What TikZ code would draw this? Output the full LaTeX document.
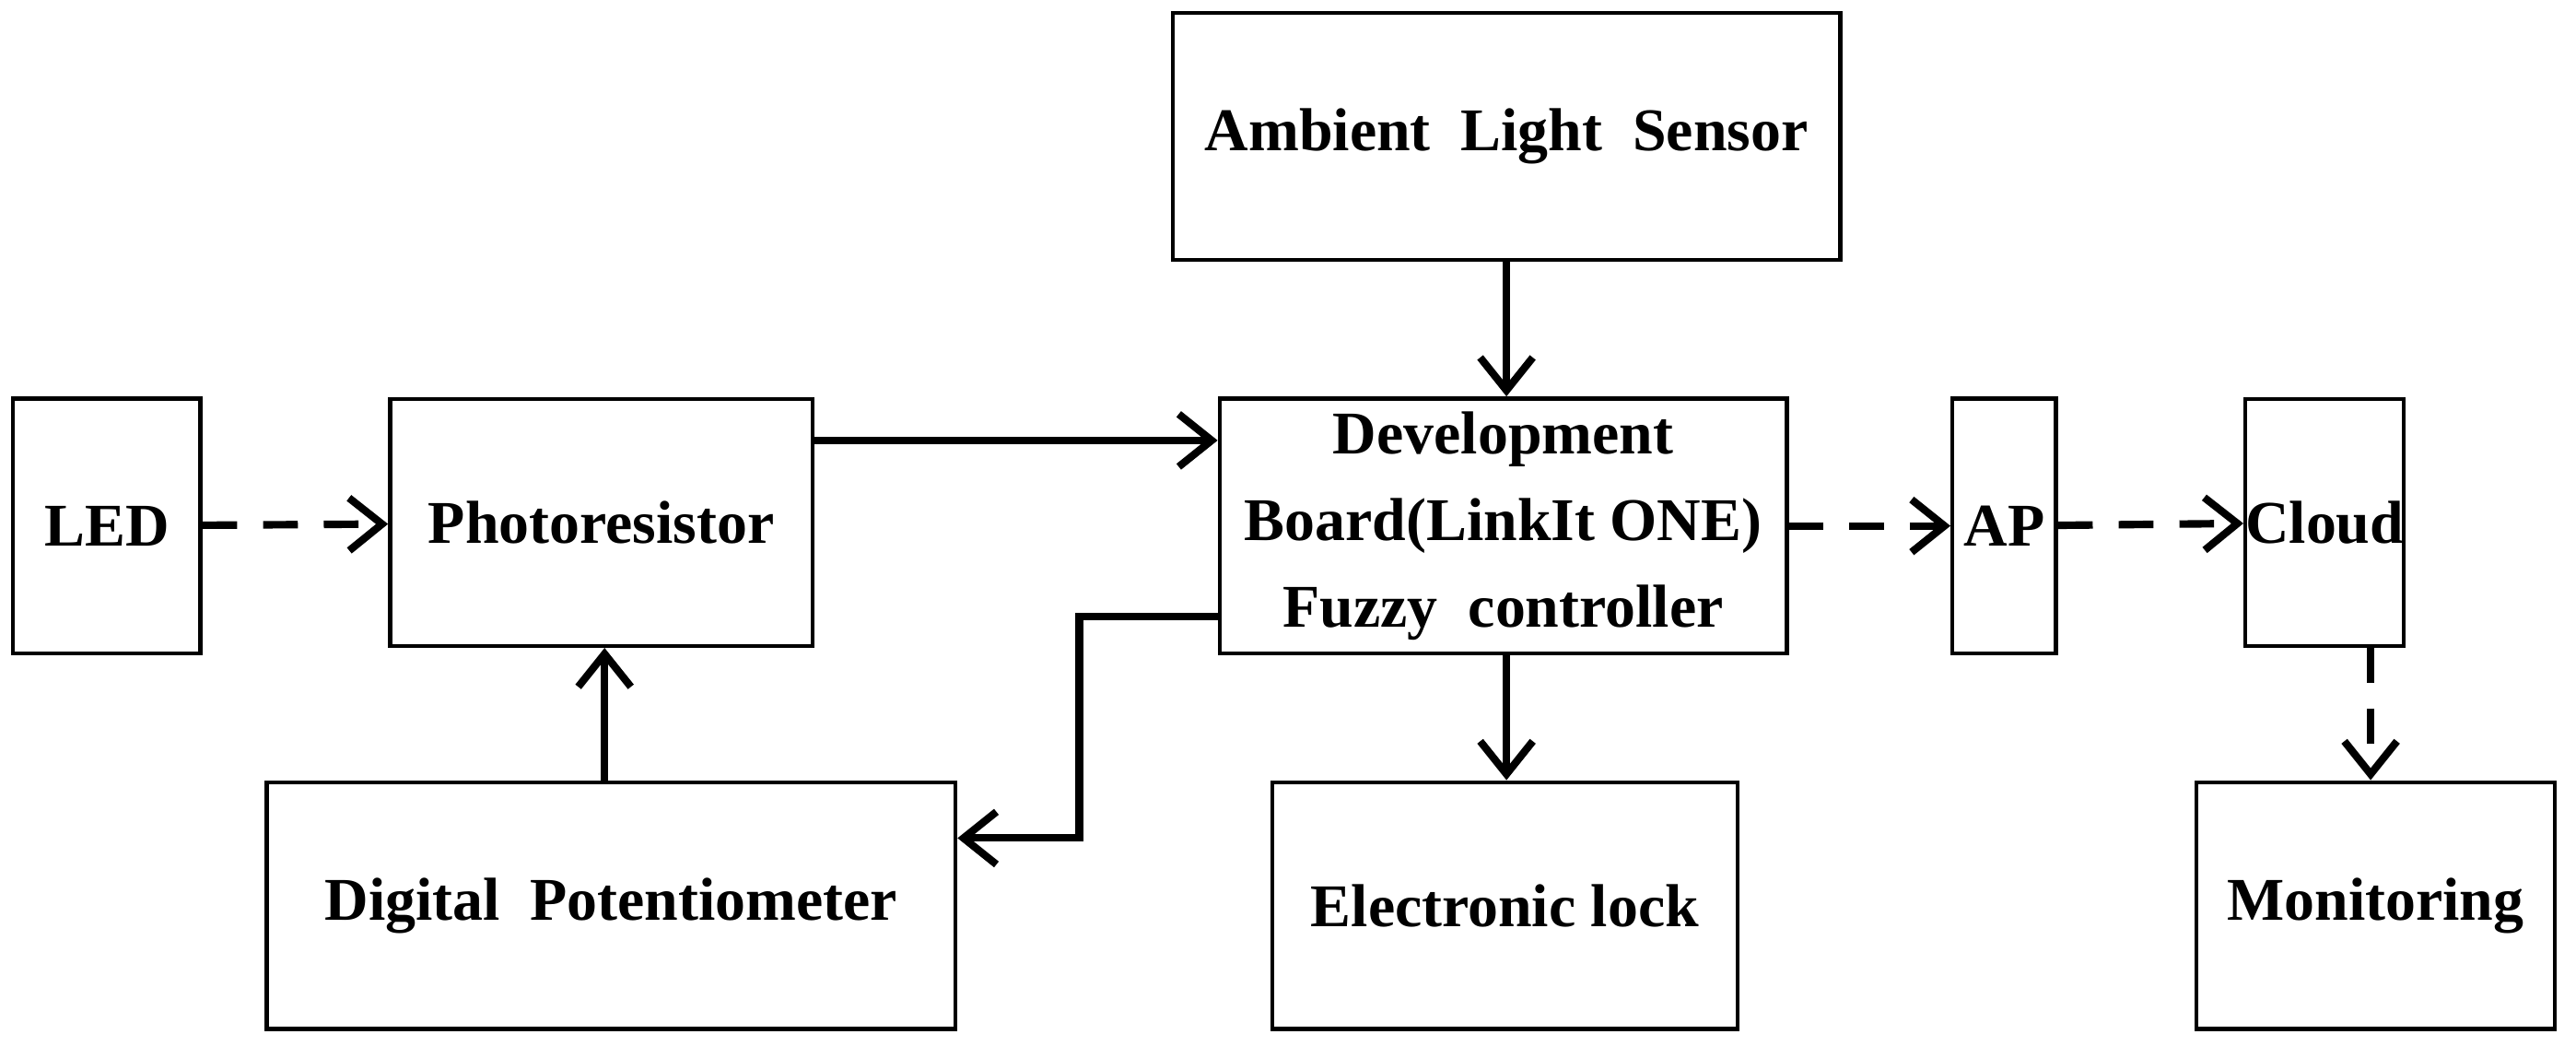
\documentclass[tikz,border=0pt]{standalone}
\usepackage{fontspec}
\setmainfont{Liberation Serif}
\usetikzlibrary{positioning}
\usetikzlibrary{arrows.meta}

\begin{document}
\begin{tikzpicture}[x=0.01cm,y=-0.01cm,
    block/.style={draw=black, line width=0.7pt, fill=white, align=center, inner sep=0pt,
        font=\fontsize{10.5}{15}\selectfont\bfseries},
    link/.style={line width=1.3pt, ->, >={Straight Barb[length=2mm,width=3.2mm]}},
    wlink/.style={link, dash pattern=on 6pt off 4.5pt} ]

    \useasboundingbox (0,0) rectangle (1568,636);

    %Nodes
    \node[block, minimum width=4.06cm, minimum height=1.5cm] (ambient) at (917,83) {Ambient\ \ Light\ \ Sensor};
    \node[block, minimum width=1.14cm, minimum height=1.55cm] (led) at (65,320) {LED};
    \node[block, minimum width=2.57cm, minimum height=1.5cm] (photo) at (366,318) {Photoresistor};
    \node[block, minimum width=3.45cm, minimum height=1.55cm] (board) at (915,320) {Development\\Board(LinkIt ONE)\\Fuzzy\ \ controller};
    \node[block, minimum width=0.63cm, minimum height=1.55cm] (ap) at (1220,320) {AP};
    \node[block, minimum width=0.66cm, minimum height=1.5cm] (cloud) at (1415,318) {Cloud};
    \node[block, minimum width=4.19cm, minimum height=1.5cm] (pot) at (372,551) {Digital\ \ Potentiometer};
    \node[block, minimum width=2.83cm, minimum height=1.5cm] (lock) at (916,551) {Electronic lock};
    \node[block, minimum width=2.18cm, minimum height=1.5cm] (monitor) at (1446,551) {Monitoring};
    \coordinate (bend) at (657,375);

    %Lines
    \draw[wlink] (led) -- (photo);
    \draw[link] (photo.east |- 0,268) -- (board.west |- 0,268);
    \draw[link] (ambient.south -| 917,0) -- (board.north -| 917,0);
    \draw[link] (board.south -| 917,0) -- (lock.north -| 917,0);
    \draw[link] (board.west |- bend) -- (bend) -- (657,510) -- (pot.east |- 0,510);
    \draw[link] (pot.north -| 368,0) -- (photo.south -| 368,0);
    \draw[wlink] (board) -- (ap);
    \draw[wlink] (ap) -- (cloud);
    \draw[wlink] (cloud.south -| 1443,0) -- (monitor.north -| 1443,0);
\end{tikzpicture}
\end{document}
